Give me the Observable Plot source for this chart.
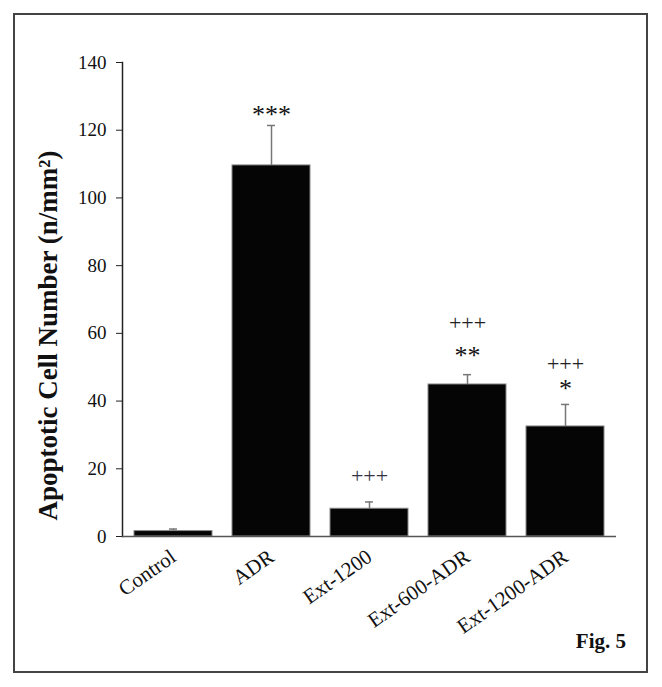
<!DOCTYPE html>
<html>
<head>
<meta charset="utf-8">
<script src="https://cdn.jsdelivr.net/npm/d3@7"></script>
<script src="https://cdn.jsdelivr.net/npm/@observablehq/plot@0.6"></script>
<style>
  html, body { margin: 0; padding: 0; background: #fff; }
  #wrap { position: relative; width: 662px; height: 687px; }
  #frame { position: absolute; left: 13px; top: 13px; width: 635px; height: 660px; box-sizing: border-box; border: 2px solid #444; pointer-events: none; }
  #fig { position: absolute; right: 36px; top: 629px; font: bold 21px "Liberation Serif", "DejaVu Serif", serif; color: #111; }
</style>
</head>
<body>
<div id="wrap">
  <div id="chart"></div>
  <div id="frame"></div>
  <div id="fig">Fig. 5</div>
</div>
<script>
const categories = ["Control", "ADR", "Ext-1200", "Ext-600-ADR", "Ext-1200-ADR"];
const means = [1.6, 109.6, 8.2, 44.9, 32.5];
const errors = [0.6, 11.8, 2.0, 2.9, 6.5];
const starLabels = ["", "***", "", "**", "*"];
const plusLabels = ["", "", "+++", "+++", "+++"];
const yTicks = [0, 20, 40, 60, 80, 100, 120, 140];

const data = categories.map((c, i) => ({
  cat: c, mean: means[i], upper: means[i] + errors[i],
  star: starLabels[i], plus: plusLabels[i]
}));

const serif = '"Liberation Serif", "DejaVu Serif", serif';

const chart = Plot.plot({
  width: 662,
  height: 687,
  marginLeft: 122,
  marginRight: 46,
  marginTop: 62,
  marginBottom: 151,
  style: { fontFamily: serif, color: "#111", background: "transparent" },
  x: { domain: categories, paddingInner: 0.2, paddingOuter: 0.1, label: null },
  y: { domain: [0, 140], label: null },
  marks: [
    Plot.axisY({ ticks: yTicks, tickSize: 6, tickPadding: 10, fontSize: 19, stroke: "#222", label: null }),
    Plot.axisX({ tickSize: 0, tickRotate: -35, tickPadding: 18, fontSize: 21, label: null }),
    Plot.barY(data, { x: "cat", y: "mean", fill: "#050505", stroke: "#888", strokeWidth: 1 }),
    Plot.ruleX(data, { x: "cat", y1: "mean", y2: "upper", stroke: "#777", strokeWidth: 1.5 }),
    Plot.tickY(data, { x: "cat", y: "upper", stroke: "#777", strokeWidth: 1.5, insetLeft: 35, insetRight: 35 }),
    Plot.frame({ anchor: "left", stroke: "#222", strokeWidth: 1.5 }),
    Plot.ruleY([0], { stroke: "#555", strokeWidth: 1.5 }),
    Plot.text(data.filter(d => d.cat === "ADR"), { x: "cat", y: "upper", text: "star", dy: -11, fontSize: 26, fill: "#111" }),
    Plot.text(data.filter(d => d.cat === "Ext-600-ADR"), { x: "cat", y: "upper", text: "star", dy: -19, fontSize: 26, fill: "#111" }),
    Plot.text(data.filter(d => d.cat === "Ext-600-ADR"), { x: "cat", y: "upper", text: "plus", dy: -52, fontSize: 22, fill: "#222" }),
    Plot.text(data.filter(d => d.cat === "Ext-1200-ADR"), { x: "cat", y: "upper", text: "star", dy: -16, fontSize: 26, fill: "#111" }),
    Plot.text(data.filter(d => d.cat === "Ext-1200-ADR"), { x: "cat", y: "upper", text: "plus", dy: -41, fontSize: 22, fill: "#222" }),
    Plot.text(data.filter(d => d.cat === "Ext-1200"), { x: "cat", y: "upper", text: "plus", dy: -26, fontSize: 22, fill: "#334" }),
    Plot.text(["Apoptotic Cell Number (n/mm²)"], { frameAnchor: "left", text: d => d, textAnchor: "middle", lineAnchor: "middle", rotate: -90, dx: -74, dy: 36, fontSize: 27, fontWeight: "bold", fill: "#111" })
  ]
});
document.getElementById("chart").appendChild(chart);
</script>
</body>
</html>
